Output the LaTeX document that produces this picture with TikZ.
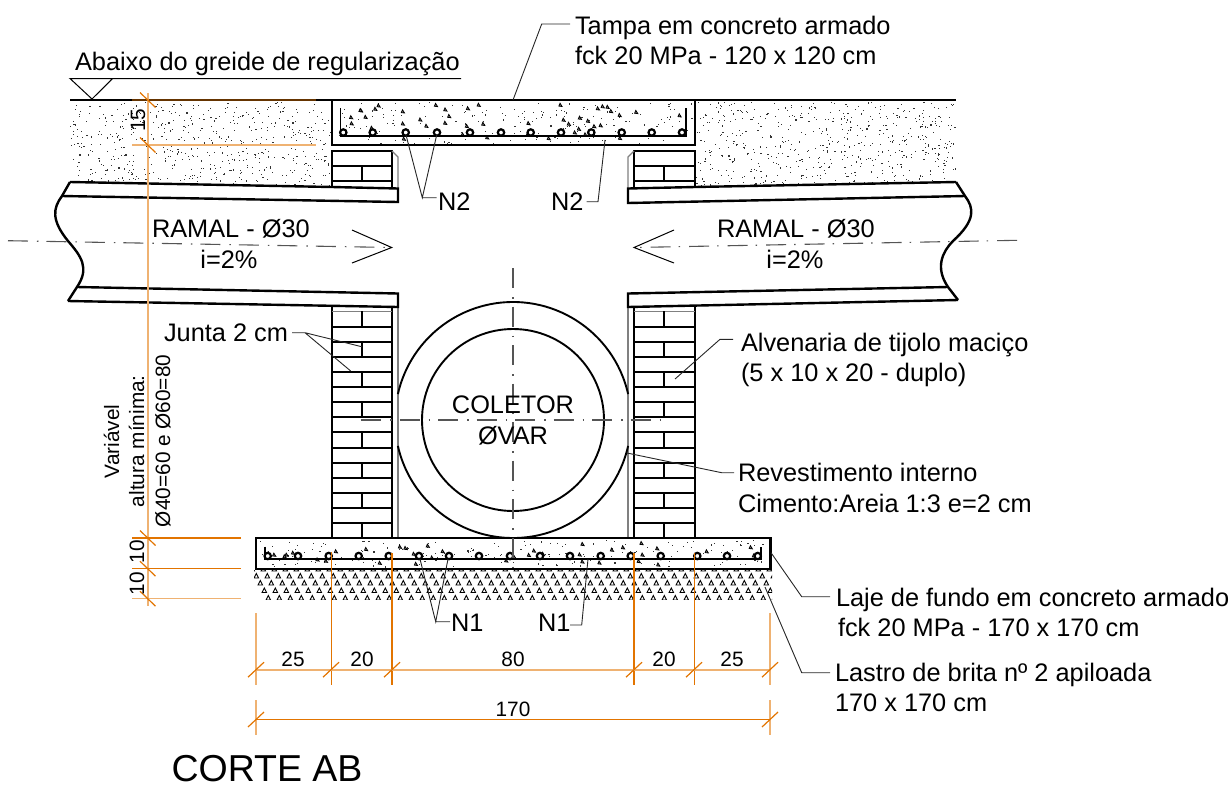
\documentclass[tikz,border=0pt]{standalone}
\usepackage{fontspec}
\setmainfont{Liberation Sans}
\definecolor{dimdark}{HTML}{E27400}
\definecolor{dimlight}{HTML}{EFB272}
\definecolor{axisgray}{HTML}{555555}
\tikzset{
  heavy/.style={line width=2.4pt,black,line join=miter},
  medium/.style={line width=1.9pt,black},
  thinline/.style={line width=1pt,black},
  greyline/.style={line width=1.3pt,gray},
  leader/.style={line width=.9pt,black!85},
  axisline/.style={line width=1.1pt,axisgray,dash pattern=on 20pt off 9pt on 1.5pt off 8pt},
  dimL/.style={line width=1.7pt,dimlight},
  dimD/.style={line width=1.2pt,dimdark},
  dimH/.style={line width=2.2pt,dimdark},
  txt/.style={font=\fontsize{25.35}{25}\selectfont,anchor=base west,inner sep=0pt,outer sep=0pt},
  txtc/.style={font=\fontsize{25.35}{25}\selectfont,anchor=base,inner sep=0pt,outer sep=0pt},
  dimtxt/.style={font=\fontsize{20.8}{20.8}\selectfont,anchor=base,inner sep=0pt,outer sep=0pt},
  vtxt/.style={font=\fontsize{20.8}{20.8}\selectfont,anchor=base west,rotate=90,inner sep=0pt,outer sep=0pt},
  rebar/.style={line width=2.2pt,black,fill=white},
}
\newcommand{\stipple}[5]{% count, xmin, xmax, ymin, ymax
  \foreach \i in {1,...,#1}{%
    \pgfmathsetmacro\px{#2+(#3-#2)*rnd}%
    \pgfmathsetmacro\py{#4+(#5-#4)*rnd}%
    \fill[black!80] (\px,\py) rectangle +(1.1,1.1);%
  }%
}
\newcommand{\coarse}[5]{%
  \foreach \i in {1,...,#1}{%
    \pgfmathsetmacro\px{#2+(#3-#2)*rnd}%
    \pgfmathsetmacro\py{#4+(#5-#4)*rnd}%
    \draw[line width=.8pt,fill=black!45] (\px,\py) -- +(3.2,.4) -- +(1.2,-2.8) -- cycle;%
  }%
}
\begin{document}
\begin{tikzpicture}[x=1pt,y=-1pt]
\useasboundingbox (0,0) rectangle (1231,788);
\pgfmathsetseed{4217}

% stipple: soil
\begin{scope}
\clip (70,102) -- (332,102) -- (332,187) -- (70,182) -- cycle;
\stipple{560}{70}{332}{102}{187}
\end{scope}
\begin{scope}
\clip (695,102) -- (956,102) -- (956,182) -- (695,187) -- cycle;
\stipple{560}{695}{956}{102}{187}
\end{scope}
% stipple: concrete
\stipple{190}{335}{692}{102}{144}
\coarse{46}{337}{688}{106}{143}
\stipple{190}{259}{768}{540}{567}
\coarse{36}{270}{760}{544}{566}

% brita
\begin{scope}
\clip (254,570.5) rectangle (772,599.5);
\foreach \y/\o in {571/2,578/6,585/10,592.5/14,600/18}{
  \foreach \k in {0,...,47}{
    \pgfmathsetmacro\px{248+\o+11*\k}
    \draw[line width=.9pt,black] (\px,\y) -- +(4.6,0) -- +(2.3,-4.6) -- cycle;
  }
}
\end{scope}

% ground line, cover
\draw[heavy] (70,100) -- (956,100);
\draw[heavy,line width=2pt] (332,100) rectangle (694.5,145);
\draw[medium] (340.5,108) -- (340.5,136) -- (686,136) -- (686,108);
\foreach \x in {343.3,372.7,405.7,437,470,501,530.7,561,591.3,621.7,651.7,682}
  \draw[rebar] (\x,132.5) circle (3.2);

% upper short walls
\draw[heavy,line width=1.9pt] (332,187) -- (332,151) -- (392,151) -- (392,188);
\draw[medium] (332,166) -- (392,166) (332,181) -- (392,181) (361.7,166) -- (361.7,181);
\draw[greyline] (392,151) -- (398,157) -- (398,188);
\draw[heavy,line width=1.9pt] (695,187) -- (695,151) -- (634,151) -- (634,188);
\draw[medium] (634,166) -- (695,166) (634,181) -- (695,181) (664,166) -- (664,181);
\draw[greyline] (634,151) -- (628,157) -- (628,188);

% lower walls
\draw[heavy,line width=1.9pt] (332,307) -- (332,538) (392,307) -- (392,538)
      (634,307) -- (634,538) (695,307) -- (695,538);
\foreach \y in {326.7,341.7,356.7,371.7,386.7,402,417.3,432.3,447.7,462.7,477.7,492.7,508,522.7}{
  \draw[medium] (332,\y) -- (392,\y) (634,\y) -- (695,\y);
}
\draw[thinline,gray] (332,311) -- (392,311) (634,311) -- (695,311);
\foreach \a/\b in {311/326.7,341.7/356.7,371.7/386.7,402/417.3,432.3/447.7,462.7/477.7,492.7/508,522.7/538}{
  \draw[medium] (361.7,\a) -- (361.7,\b) (664,\a) -- (664,\b);
}
\draw[greyline] (398,307) -- (398,538) (628,307) -- (628,538);

% collector
\draw[medium] (513,420) circle (91);
\draw[medium] (513,420) ++(12.7:118 and -118) arc[start angle=-12.7,end angle=-167.3,radius=118];
\draw[medium] (513,420) ++(-12.7:118 and -118) arc[start angle=12.7,end angle=167.3,radius=118];

% pipes with flanges
\draw[heavy,line join=miter] (70,182) -- (332,187) -- (398,188.5) -- (398,202) -- (62,196);
\draw[heavy] (77,287) -- (398,293.5) -- (398,307) -- (68,301);
\draw[heavy] (70,182) -- (62,196) .. controls (53,208) and (51,220) .. (68,241)
   .. controls (81,256) and (90,268) .. (77,287) -- (68,301);
\draw[heavy,line join=miter] (956,182) -- (695,187) -- (628,188.5) -- (628,203) -- (965,196);
\draw[heavy] (948,287) -- (628,293.5) -- (628,307) -- (958,300);
\draw[heavy] (956,182) -- (965,196) .. controls (974,208) and (976,220) .. (953,241)
   .. controls (942,252) and (935,268) .. (948,287) -- (958,300);

% bottom slab
\draw[heavy] (256,538) rectangle (770.5,568.7);
\draw[medium] (265,546.5) -- (265,559) -- (761,559) -- (761,546.5);
\foreach \x in {267.7,298,328.7,358.7,388.7,419,449,479,510,540,570,600.7,630.7,660.7,697.3,727,757.7}
  \draw[rebar] (\x,556) circle (3.2);

% axes
\coordinate (axLa) at (8,240.7);
\coordinate (axLb) at (391.7,247.5);
\coordinate (axRa) at (1017,240.3);
\coordinate (axRb) at (634,247.5);
\draw[axisline] (axLa) -- (axLb);
\draw[axisline] (axRa) -- (axRb);
\draw[thinline] (352,230) -- (axLb) -- (352,263);
\draw[thinline] (674,230) -- (axRb) -- (674,263);
\draw[axisline,line width=1.3pt] (513,268) -- (513,572);
\draw[axisline] (361,420) -- (664,420);

% dimensions (left)
\draw[dimL] (147.7,93) -- (147.7,606);
\draw[dimH,line width=1.8pt,opacity=.45] (132,100) -- (316,100);
\draw[dimL,line width=1.2pt] (132,145) -- (316,145);
\draw[dimD] (132,538) -- (241,538) (132,568.7) -- (241,568.7);
\draw[dimL,line width=1.3pt] (132,598.7) -- (241,598.7);
\foreach \y in {100,145,538,568.7,598.7}
  \draw[dimD] (140,\y-7.5) -- (155.5,\y+7.5);

% dimensions (bottom)
\draw[dimL] (256,613) -- (256,685) (770,613) -- (770,685);
\draw[dimD,line width=.9pt] (331,552) -- (331,685) (694,553) -- (694,685);
\draw[dimH] (392,553) -- (392,685) (634,553) -- (634,685);
\draw[dimL] (256,669.7) -- (770,669.7);
\foreach \x in {256,331,392,634,694,770}
  \draw[dimD] (\x-8,669.7+7.5) -- (\x+8,669.7-7.5);
\draw[dimL] (256,700) -- (256,735) (770,700) -- (770,735);
\draw[dimD] (256,719.5) -- (770,719.5);
\foreach \x in {256,770}
  \draw[dimD] (\x-8,719.5+7.5) -- (\x+8,719.5-7.5);

% dimension texts
\node[dimtxt] (d25a) at (293,666.7) {25};
\node[dimtxt] (d20a) at (362,666.7) {20};
\node[dimtxt] (d80) at (513,666.7) {80};
\node[dimtxt] (d20b) at (664,666.7) {20};
\node[dimtxt] (d25b) at (732,666.7) {25};
\node[dimtxt] (d170) at (513,716) {170};
\node[vtxt] (d15) at (145,131.7) {15};
\node[vtxt] (d10a) at (144,563) {10};
\node[vtxt] (d10b) at (144,595) {10};
\node[vtxt] (varA) at (119,478) {Variável};
\node[vtxt] (varB) at (144,507) {altura mínima:};
\node[vtxt] (varC) at (170,527) {Ø40=60 e Ø60=80};

% grade mark
\node[txt] (grade) at (75,70.7) {Abaixo do greide de regularização};
\coordinate (gradeA) at (70,78.5);
\coordinate (gradeB) at (461,78.5);
\coordinate (gradeTip) at (92,99);
\coordinate (gradeC) at (112.7,78.5);
\draw[thinline] (gradeB) -- (gradeA) -- (gradeTip) -- (gradeC);

% labels and leaders
\node[txt] (tampaA) at (575,34) {Tampa em concreto armado};
\node[txt] (tampaB) at (575,64) {fck 20 MPa - 120 x 120 cm};
\coordinate (tampaP) at (513,100);
\coordinate (tampaQ) at (541.7,24);
\coordinate (tampaR) at (570,24);
\draw[leader] (tampaP) -- (tampaQ) -- (tampaR);

\node[txt] (n2a) at (438,210.7) {N2};
\coordinate (n2aP) at (406,135);
\coordinate (n2aQ) at (436.7,135);
\coordinate (n2aJ) at (422.3,197.7);
\coordinate (n2aE) at (436.7,197.7);
\draw[leader] (n2aP) -- (n2aJ) -- (n2aQ) (n2aJ) -- (n2aE);

\node[txt] (n2b) at (551,210) {N2};
\coordinate (n2bP) at (586.7,201.7);
\coordinate (n2bQ) at (598,201.7);
\coordinate (n2bR) at (605,140);
\draw[leader] (n2bP) -- (n2bQ) -- (n2bR);

\node[txt] (ramalL) at (152,237) {RAMAL - Ø30};
\node[txtc] (iL) at (229,268) {i=2\%};
\node[txt] (ramalR) at (717,237) {RAMAL - Ø30};
\node[txtc] (iR) at (795,268) {i=2\%};

\node[txt] (junta) at (164,341.7) {Junta 2 cm};
\coordinate (juntaA) at (292,332.7);
\coordinate (juntaB) at (305,332.7);
\coordinate (juntaC) at (361.7,346.7);
\coordinate (juntaD) at (350.7,371);
\draw[leader] (juntaA) -- (juntaB) -- (juntaC) (juntaB) -- (juntaD);

\node[txt] (alvA) at (741,351) {Alvenaria de tijolo maciço};
\node[txt] (alvB) at (741,381) {(5 x 10 x 20 - duplo)};
\coordinate (alvP) at (675,379);
\coordinate (alvQ) at (720,339.3);
\coordinate (alvR) at (733,339.3);
\draw[leader] (alvP) -- (alvQ) -- (alvR);

\node[txtc] (colA) at (513,413) {COLETOR};
\node[txtc] (colB) at (513,444) {ØVAR};

\node[txt] (revA) at (738,481) {Revestimento interno};
\node[txt] (revB) at (738,512) {Cimento:Areia 1:3 e=2 cm};
\coordinate (revP) at (627,453);
\coordinate (revQ) at (721.7,472.7);
\coordinate (revR) at (734,472.7);
\draw[leader] (revP) -- (revQ) -- (revR);

\node[txt] (lajeA) at (836,606) {Laje de fundo em concreto armado};
\node[txt] (lajeB) at (838,636) {fck 20 MPa - 170 x 170 cm};
\coordinate (lajeP) at (771,552.7);
\coordinate (lajeQ) at (801.7,596.7);
\coordinate (lajeR) at (830,596.7);
\draw[leader] (lajeP) -- (lajeQ) -- (lajeR);

\node[txt] (lastA) at (835,681.7) {Lastro de brita nº 2 apiloada};
\node[txt] (lastB) at (835,711.7) {170 x 170 cm};
\coordinate (lastP) at (765,587);
\coordinate (lastQ) at (801.7,672.7);
\coordinate (lastR) at (830,672.7);
\draw[leader] (lastP) -- (lastQ) -- (lastR);

\node[txt] (n1a) at (451,631.7) {N1};
\coordinate (n1aP) at (420,559);
\coordinate (n1aQ) at (448,559);
\coordinate (n1aJ) at (435.7,621.7);
\coordinate (n1aE) at (450,621.7);
\draw[leader] (n1aP) -- (n1aJ) -- (n1aQ) (n1aJ) -- (n1aE);

\node[txt] (n1b) at (538,631.7) {N1};
\coordinate (n1bP) at (570,625);
\coordinate (n1bQ) at (581.7,625);
\coordinate (n1bR) at (588,559);
\draw[leader] (n1bP) -- (n1bQ) -- (n1bR);

\node[font=\fontsize{37.5}{30}\selectfont,anchor=base west,inner sep=0pt,outer sep=0pt] (corte) at (171.5,781.7) {CORTE AB};
\end{tikzpicture}
\end{document}
